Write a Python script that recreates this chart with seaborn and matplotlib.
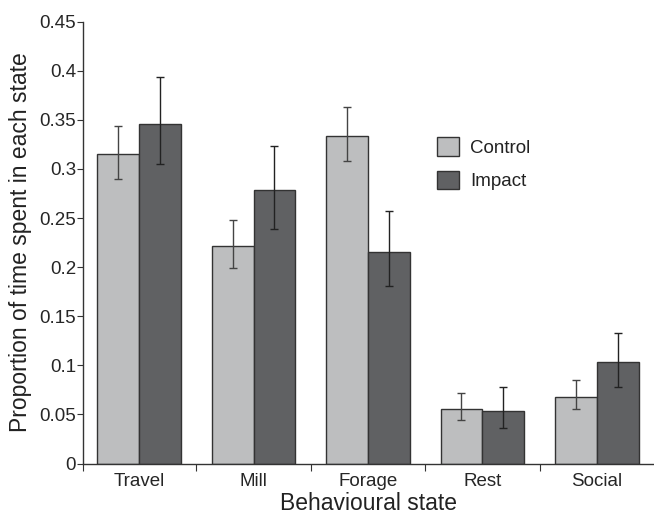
import numpy as np
import pandas as pd
import matplotlib
matplotlib.use("Agg")
import matplotlib.pyplot as plt
import seaborn as sns

# values
states = ["Travel", "Mill", "Forage", "Rest", "Social"]
groups = ["Control", "Impact"]
control = [0.315, 0.222, 0.334, 0.056, 0.068]
impact = [0.346, 0.279, 0.215, 0.053, 0.103]
control_lo = [0.290, 0.199, 0.308, 0.044, 0.055]
control_hi = [0.344, 0.248, 0.363, 0.072, 0.085]
impact_lo = [0.305, 0.239, 0.181, 0.036, 0.078]
impact_hi = [0.394, 0.323, 0.257, 0.078, 0.133]

df = pd.DataFrame({
    "state": states * 2,
    "group": ["Control"] * 5 + ["Impact"] * 5,
    "prop": control + impact,
})

sns.set_style("ticks")
plt.rcParams["font.family"] = ["Liberation Sans", "DejaVu Sans"]
plt.rcParams["text.color"] = "#222222"
plt.rcParams["axes.labelcolor"] = "#222222"

fig = plt.figure(figsize=(6.54, 5.15), dpi=100)
ax = fig.add_axes([0.127, 0.1, 0.873, 0.858])

colors = {"Control": "#bdbebf", "Impact": "#606163"}
sns.barplot(data=df, x="state", y="prop", hue="group", order=states,
            hue_order=groups, palette=colors, width=0.73,
            edgecolor="#333333", linewidth=1.0, ax=ax)

# asymmetric error bars at the bar centres seaborn drew
bars = [p for p in ax.patches if p.get_height() > 0][:10]
for i, p in enumerate(bars):
    x = p.get_x() + p.get_width() / 2
    if i < 5:
        lo, hi, col = control_lo[i], control_hi[i], "#444444"
    else:
        lo, hi, col = impact_lo[i - 5], impact_hi[i - 5], "#222222"
    y = p.get_height()
    ax.errorbar(x, y, yerr=[[y - lo], [hi - y]], fmt="none",
                ecolor=col, elinewidth=1.0, capsize=3, capthick=1.0)

ax.set_xlim(-0.49, 4.5)
ax.set_ylim(0, 0.45)
ax.set_yticks(np.arange(0, 0.451, 0.05))
ax.set_yticklabels(["0", "0.05", "0.1", "0.15", "0.2", "0.25", "0.3",
                    "0.35", "0.4", "0.45"])
ax.set_xticks(range(5))
ax.set_xticklabels(states)
ax.set_xticks([-0.49, 0.5, 1.5, 2.5, 3.5], minor=True)
ax.tick_params(axis="x", which="major", length=0, labelsize=13.5, pad=7)
ax.tick_params(axis="x", which="minor", length=5, width=0.8, color="#333333")
ax.tick_params(axis="y", length=4, width=0.8, labelsize=13.5, pad=1,
               color="#333333")

for s in ["top", "right"]:
    ax.spines[s].set_visible(False)
for s in ["left", "bottom"]:
    ax.spines[s].set_color("#333333")
    ax.spines[s].set_linewidth(1.0)

ax.set_xlabel("Behavioural state", fontsize=16.5, labelpad=1)
ax.set_ylabel("Proportion of time spent in each state", fontsize=16.5,
              labelpad=5)

leg = ax.legend(loc="upper left", bbox_to_anchor=(0.62, 0.738),
                frameon=False, fontsize=13.5, handlelength=1.15,
                handleheight=1.15, labelspacing=0.72, handletextpad=0.6,
                borderpad=0, borderaxespad=0)

fig.savefig("out.png", dpi=100)
